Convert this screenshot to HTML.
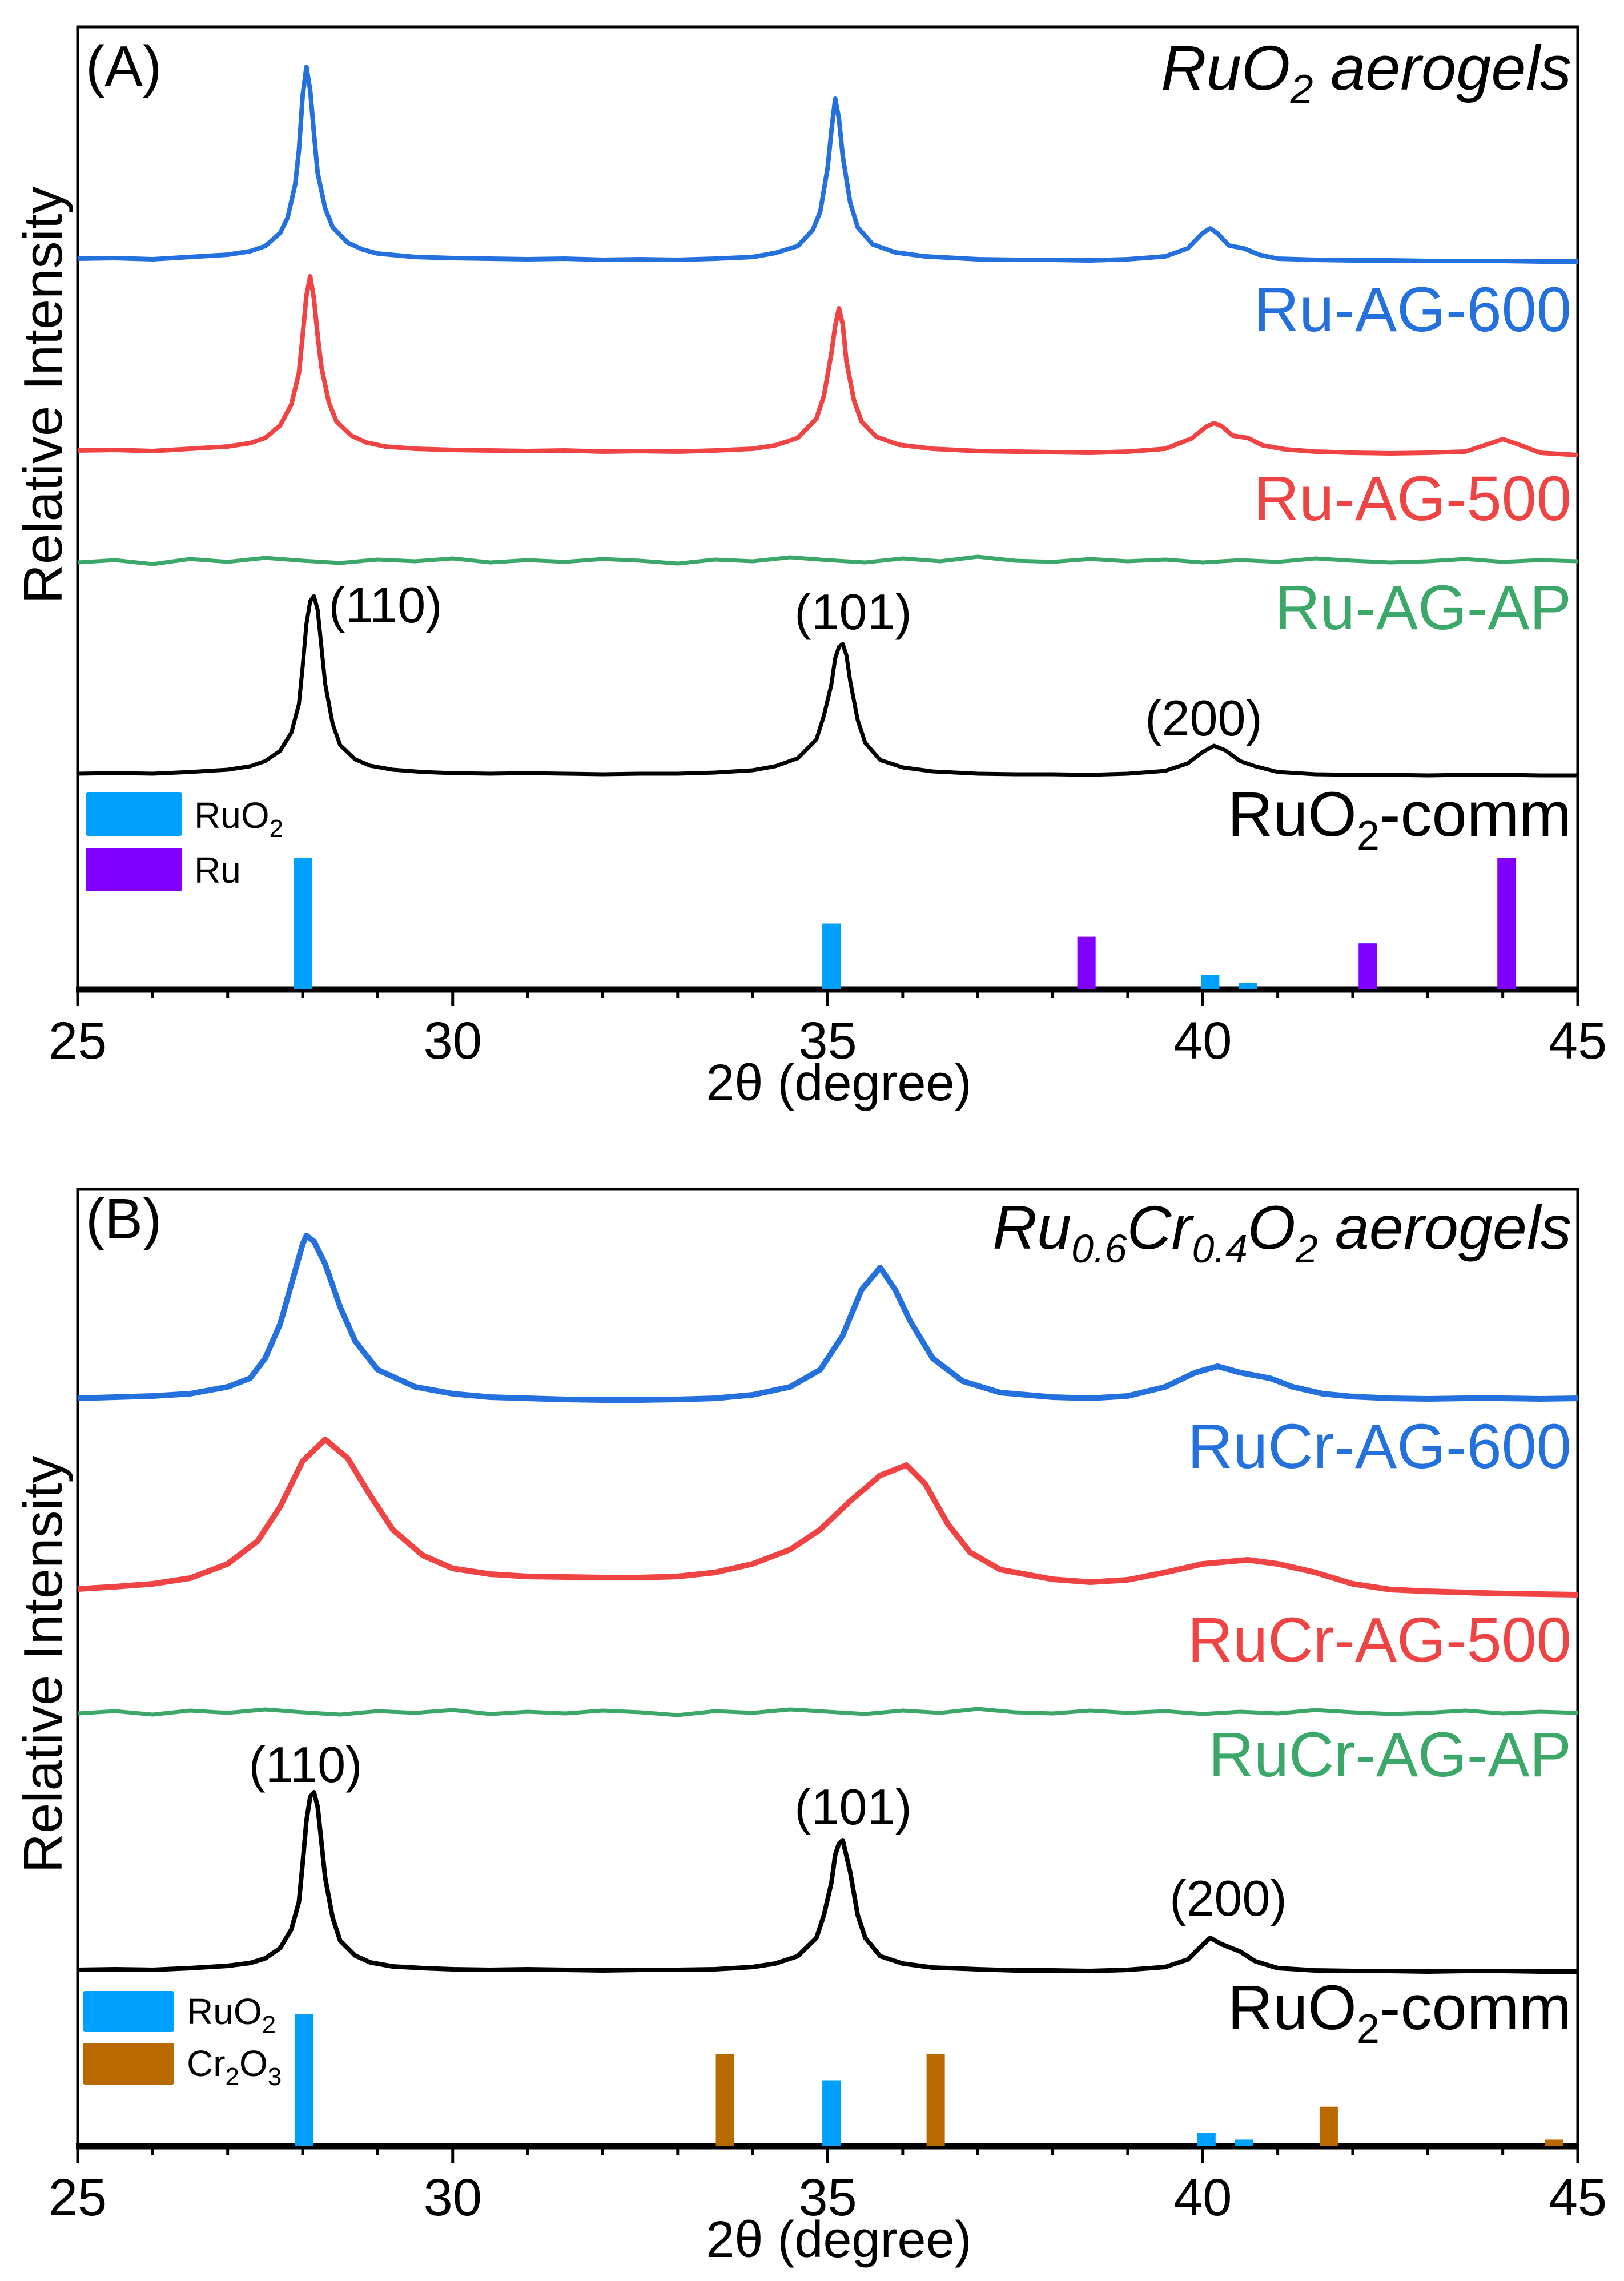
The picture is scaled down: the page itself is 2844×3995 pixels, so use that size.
<!DOCTYPE html>
<html><head><meta charset="utf-8"><style>
html,body{margin:0;padding:0;background:#fff;}
svg{display:block;font-family:"Liberation Sans",Arial,sans-serif;}
</style></head><body>
<svg id="chart" width="2844" height="3995" viewBox="0 0 2844 3995" xmlns="http://www.w3.org/2000/svg">
<rect x="0" y="0" width="2844" height="3995" fill="#fff"/>
<g id="gA"></g>
<g id="gB"></g>

<text x="150" y="150" font-size="100">(A)</text>
<text x="2752" y="157" font-size="110" font-style="italic" text-anchor="end">RuO<tspan font-size="72" dy="24">2</tspan><tspan dy="-24"> aerogels</tspan></text>
<text x="2752" y="580" font-size="110" fill="#2471DE" text-anchor="end">Ru-AG-600</text>
<text x="2752" y="911" font-size="110" fill="#F04444" text-anchor="end">Ru-AG-500</text>
<text x="2752" y="1102" font-size="110" fill="#3BA86A" text-anchor="end">Ru-AG-AP</text>
<text x="2752" y="1464" font-size="110" text-anchor="end">RuO<tspan font-size="72" dy="24">2</tspan><tspan dy="-24">-comm</tspan></text>
<text x="675" y="1090" font-size="88" text-anchor="middle">(110)</text>
<text x="1494" y="1102" font-size="88" text-anchor="middle">(101)</text>
<text x="2108" y="1288" font-size="88" text-anchor="middle">(200)</text>
<rect x="150" y="1388" width="169" height="76" rx="4" fill="#00A0FF"/>
<text x="340" y="1450" font-size="64">RuO<tspan font-size="44" dy="16">2</tspan></text>
<rect x="150" y="1485" width="169" height="76" rx="4" fill="#8000FF"/>
<text x="340" y="1546" font-size="64">Ru</text>
<text transform="translate(108,692) rotate(-90)" font-size="96" text-anchor="middle">Relative Intensity</text>
<text x="1469" y="1927" font-size="90" text-anchor="middle">2θ (degree)</text>

<text x="150" y="2169" font-size="100">(B)</text>
<text x="2752" y="2187" font-size="108" font-style="italic" text-anchor="end">Ru<tspan font-size="70" dy="24">0.6</tspan><tspan dy="-24">Cr</tspan><tspan font-size="70" dy="24">0.4</tspan><tspan dy="-24">O</tspan><tspan font-size="70" dy="24">2</tspan><tspan dy="-24"> aerogels</tspan></text>
<text x="2752" y="2571" font-size="110" fill="#2471DE" text-anchor="end">RuCr-AG-600</text>
<text x="2752" y="2910" font-size="110" fill="#F04444" text-anchor="end">RuCr-AG-500</text>
<text x="2752" y="3111" font-size="110" fill="#3BA86A" text-anchor="end">RuCr-AG-AP</text>
<text x="2752" y="3554" font-size="110" text-anchor="end">RuO<tspan font-size="72" dy="24">2</tspan><tspan dy="-24">-comm</tspan></text>
<text x="535" y="3121" font-size="88" text-anchor="middle">(110)</text>
<text x="1494" y="3195" font-size="88" text-anchor="middle">(101)</text>
<text x="2151" y="3355" font-size="88" text-anchor="middle">(200)</text>
<rect x="145" y="3487" width="160" height="72" rx="4" fill="#00A0FF"/>
<text x="327" y="3545" font-size="64">RuO<tspan font-size="44" dy="16">2</tspan></text>
<rect x="145" y="3578" width="160" height="73" rx="4" fill="#B86A00"/>
<text x="327" y="3636" font-size="64">Cr<tspan font-size="44" dy="16">2</tspan><tspan dy="-16">O</tspan><tspan font-size="44" dy="16">3</tspan></text>
<text transform="translate(108,2915) rotate(-90)" font-size="96" text-anchor="middle">Relative Intensity</text>
<text x="1469" y="3953" font-size="90" text-anchor="middle">2θ (degree)</text>
</svg>
<script>
// ---- axis tick labels ----
const xTicks = [25, 30, 35, 40, 45];
// ---- Panel A series ----
const aBlueX = [25,25.5,26,26.5,27,27.3,27.5,27.7,27.8,27.9,27.95,28.0,28.05,28.1,28.15,28.2,28.3,28.4,28.6,28.8,29,29.5,30,30.5,31,31.5,32,32.5,33,33.5,34,34.3,34.6,34.8,34.9,35.0,35.05,35.1,35.15,35.2,35.3,35.4,35.6,35.9,36.3,37,37.5,38,38.5,39,39.5,39.8,40.0,40.1,40.2,40.35,40.55,40.75,41,41.5,42,42.5,43,43.5,44,44.5,45];
const aBlueY = [1280,1281,1279,1283,1287,1293,1302,1325,1352,1410,1470,1565,1616,1575,1500,1430,1368,1335,1308,1296,1289,1283,1281,1280,1279,1280,1278,1279,1278,1280,1283,1290,1302,1330,1362,1440,1505,1560,1525,1460,1378,1335,1305,1291,1284,1279,1278,1278,1277,1279,1284,1298,1325,1333,1324,1303,1298,1287,1280,1278,1277,1277,1276,1276,1276,1275,1275];
const aRedX = [25,25.5,26,26.5,27,27.3,27.5,27.7,27.85,27.95,28.0,28.05,28.1,28.15,28.2,28.25,28.35,28.45,28.65,28.85,29.1,29.5,30,30.5,31,31.5,32,32.5,33,33.5,34,34.3,34.6,34.85,34.95,35.05,35.1,35.15,35.2,35.25,35.35,35.45,35.65,35.95,36.4,37,37.5,38,38.5,39,39.5,39.85,40.05,40.15,40.25,40.4,40.6,40.8,41.1,41.5,42,42.5,43,43.5,43.8,44.0,44.2,44.5,45];
const aRedY = [944,945,943,947,951,957,966,988,1025,1080,1145,1215,1249,1210,1145,1090,1028,995,970,958,951,947,945,944,943,944,942,943,942,944,947,953,966,1000,1040,1115,1162,1193,1165,1100,1032,995,968,954,947,943,942,941,940,942,947,965,986,992,987,970,966,953,946,942,940,939,940,942,955,964,955,940,936];
const aGreenX = [25,25.5,26,26.5,27,27.5,28,28.5,29,29.5,30,30.5,31,31.5,32,32.5,33,33.5,34,34.5,35,35.5,36,36.5,37,37.5,38,38.5,39,39.5,40,40.5,41,41.5,42,42.5,43,43.5,44,44.5,45];
const aGreenY = [748,752,745,754,749,756,751,747,753,750,755,748,752,749,754,751,746,753,750,757,752,748,755,750,758,751,749,754,750,753,748,752,749,755,751,748,750,754,749,752,750];
const aBlackX = [25,25.5,26,26.5,27,27.3,27.5,27.7,27.85,27.95,28.0,28.05,28.1,28.15,28.2,28.25,28.3,28.4,28.5,28.7,28.9,29.2,29.6,30,30.5,31,31.5,32,32.5,33,33.5,34,34.3,34.6,34.85,34.95,35.05,35.1,35.15,35.2,35.25,35.3,35.4,35.5,35.7,36,36.4,37,37.5,38,38.5,39,39.5,39.8,40.0,40.15,40.3,40.5,40.7,41,41.5,42,42.5,43,43.5,44,44.5,45];
const aBlackY = [378,379,378,381,385,391,400,418,450,500,565,640,680,689,665,600,535,465,428,403,392,385,381,379,378,379,378,377,378,378,380,384,391,405,438,480,535,580,600,605,585,540,472,432,402,389,382,378,377,377,376,378,383,396,416,427,419,400,391,381,377,376,376,375,376,376,375,375];
// ---- Panel A reference bars ----
const aRuo2Pos = [28.0, 35.05, 40.1, 40.6];
const aRuo2Int = [100, 50, 11, 5];
const aRuPos = [38.45, 42.2, 44.05];
const aRuInt = [40, 35, 100];
// ---- Panel B series ----
const bBlueX = [25,25.5,26,26.5,27,27.3,27.5,27.7,27.85,28.0,28.05,28.15,28.3,28.5,28.7,29,29.5,30,30.5,31,31.5,32,32.5,33,33.5,34,34.5,34.9,35.2,35.45,35.7,35.9,36.1,36.4,36.8,37.3,38,38.5,39,39.5,39.9,40.2,40.5,40.9,41.2,41.6,42,42.5,43,43.5,44,44.5,45];
const bBlueY = [1310,1312,1314,1318,1330,1345,1380,1440,1510,1580,1595,1585,1545,1470,1410,1360,1330,1318,1312,1310,1308,1307,1307,1308,1310,1316,1330,1360,1420,1500,1539,1500,1445,1380,1340,1320,1312,1310,1314,1330,1355,1366,1355,1345,1330,1318,1313,1310,1309,1310,1310,1309,1310];
const bRedX = [25,25.5,26,26.5,27,27.4,27.7,28.0,28.3,28.6,28.9,29.2,29.6,30,30.5,31,31.5,32,32.5,33,33.5,34,34.5,34.9,35.3,35.7,36.05,36.3,36.6,36.9,37.3,38,38.5,39,39.5,40,40.6,41,41.5,42,42.5,43,43.5,44,44.5,45];
const bRedY = [976,980,985,995,1020,1060,1120,1200,1238,1205,1140,1080,1035,1012,1002,998,997,996,996,998,1005,1020,1045,1080,1130,1175,1193,1160,1090,1040,1010,993,988,992,1005,1020,1027,1020,1005,985,975,972,970,968,967,966];
const bGreenX = [25,25.5,26,26.5,27,27.5,28,28.5,29,29.5,30,30.5,31,31.5,32,32.5,33,33.5,34,34.5,35,35.5,36,36.5,37,37.5,38,38.5,39,39.5,40,40.5,41,41.5,42,42.5,43,43.5,44,44.5,45];
const bGreenY = [758,762,756,763,759,765,760,756,762,759,764,757,761,758,763,760,755,762,759,765,761,757,763,759,766,760,758,763,759,762,757,761,758,764,760,757,759,763,758,761,759];
const bBlackX = [25,25.5,26,26.5,27,27.3,27.5,27.7,27.85,27.95,28.0,28.05,28.1,28.15,28.2,28.3,28.4,28.5,28.7,28.9,29.2,29.6,30,30.5,31,31.5,32,32.5,33,33.5,34,34.3,34.6,34.85,34.95,35.05,35.1,35.15,35.2,35.3,35.4,35.5,35.7,36,36.4,37,37.5,38,38.5,39,39.5,39.8,40.0,40.1,40.25,40.5,40.7,41,41.5,42,42.5,43,43.5,44,44.5,45];
const bBlackY = [309,310,309,312,316,321,329,347,380,428,495,570,612,620,595,470,400,360,334,322,315,312,310,309,310,309,308,309,309,310,314,320,333,365,405,462,510,530,536,480,405,365,333,320,313,310,308,308,307,309,314,327,353,365,354,341,324,312,308,307,307,306,307,307,306,306];
// ---- Panel B reference bars ----
const bRuo2Pos = [28.02, 35.05, 40.05, 40.55];
const bRuo2Int = [100, 50, 10, 5];
const bCrPos = [33.63, 36.44, 41.68, 44.68];
const bCrInt = [70, 70, 30, 5];

const NS = 'http://www.w3.org/2000/svg';
const X0 = 136, X1 = 2763, XMIN = 25, XMAX = 45;
function xScale(x){ return X0 + (x - XMIN) * (X1 - X0) / (XMAX - XMIN); }
const panels = {
  A: {g: document.getElementById('gA'), top: 47, bottom: 1733},
  B: {g: document.getElementById('gB'), top: 2083, bottom: 3759}
};
function yScale(p, v){ return panels[p].bottom - v; }
function barScale(p, i){ return i * 2.31; }

function mk(tag, attrs, parent){
  const el = document.createElementNS(NS, tag);
  for (const k in attrs) el.setAttribute(k, attrs[k]);
  parent.appendChild(el);
  return el;
}
function drawLine(p, xs, ys, color, w, name){
  let d = '';
  for (let i = 0; i < xs.length; i++) d += (i ? 'L' : 'M') + xScale(xs[i]).toFixed(1) + ',' + yScale(p, ys[i]).toFixed(1);
  const el = mk('path', {d: d, fill: 'none', stroke: color, 'stroke-width': w, 'stroke-linejoin': 'round'}, panels[p].g);
  
  
}
function drawBars(p, pos, ints, color, name){
  for (let i = 0; i < pos.length; i++){
    const h = barScale(p, ints[i]);
    const el = mk('rect', {x: xScale(pos[i]) - 16, y: panels[p].bottom - h, width: 32, height: h, fill: color}, panels[p].g);
    
    
  }
}
function drawAxes(p){
  const P = panels[p], g = P.g;
  const fr = mk('rect', {x: X0, y: P.top, width: X1 - X0, height: P.bottom - P.top, fill: 'none', stroke: '#000', 'stroke-width': 5}, g);
  
  
  const ax = mk('line', {x1: X0 - 3, x2: X1 + 3, y1: P.bottom, y2: P.bottom, stroke: '#000', 'stroke-width': 11}, g);
  
  
  for (let t = XMIN; t <= XMAX; t++){
    const major = (t % 5 === 0);
    const tk = mk('line', {x1: xScale(t), x2: xScale(t), y1: P.bottom + 5, y2: P.bottom + (major ? 29 : 15), stroke: '#000', 'stroke-width': 5}, g);
    
    
  }
  for (let i = 0; i < xTicks.length; i++){
    const tl = mk('text', {x: xScale(xTicks[i]), y: P.bottom + 121, 'font-size': 92, 'text-anchor': 'middle'}, g);
    tl.textContent = xTicks[i];
    
    
  }
}
drawAxes('A'); drawAxes('B');
drawBars('A', aRuo2Pos, aRuo2Int, '#00A0FF', 'bar-ruo2-a');
drawBars('A', aRuPos, aRuInt, '#8000FF', 'bar-ru');
drawBars('B', bRuo2Pos, bRuo2Int, '#00A0FF', 'bar-ruo2-b');
drawBars('B', bCrPos, bCrInt, '#B86A00', 'bar-cr2o3');
drawLine('A', aBlueX, aBlueY, '#2471DE', 8, 'series-ru-ag-600');
drawLine('A', aRedX, aRedY, '#F04444', 8, 'series-ru-ag-500');
drawLine('A', aGreenX, aGreenY, '#3BA86A', 7, 'series-ru-ag-ap');
drawLine('A', aBlackX, aBlackY, '#000', 7, 'series-ruo2-comm-a');
drawLine('B', bBlueX, bBlueY, '#2471DE', 10, 'series-rucr-ag-600');
drawLine('B', bRedX, bRedY, '#F04444', 10, 'series-rucr-ag-500');
drawLine('B', bGreenX, bGreenY, '#3BA86A', 7, 'series-rucr-ag-ap');
drawLine('B', bBlackX, bBlackY, '#000', 8, 'series-ruo2-comm-b');
</script>
</body></html>
